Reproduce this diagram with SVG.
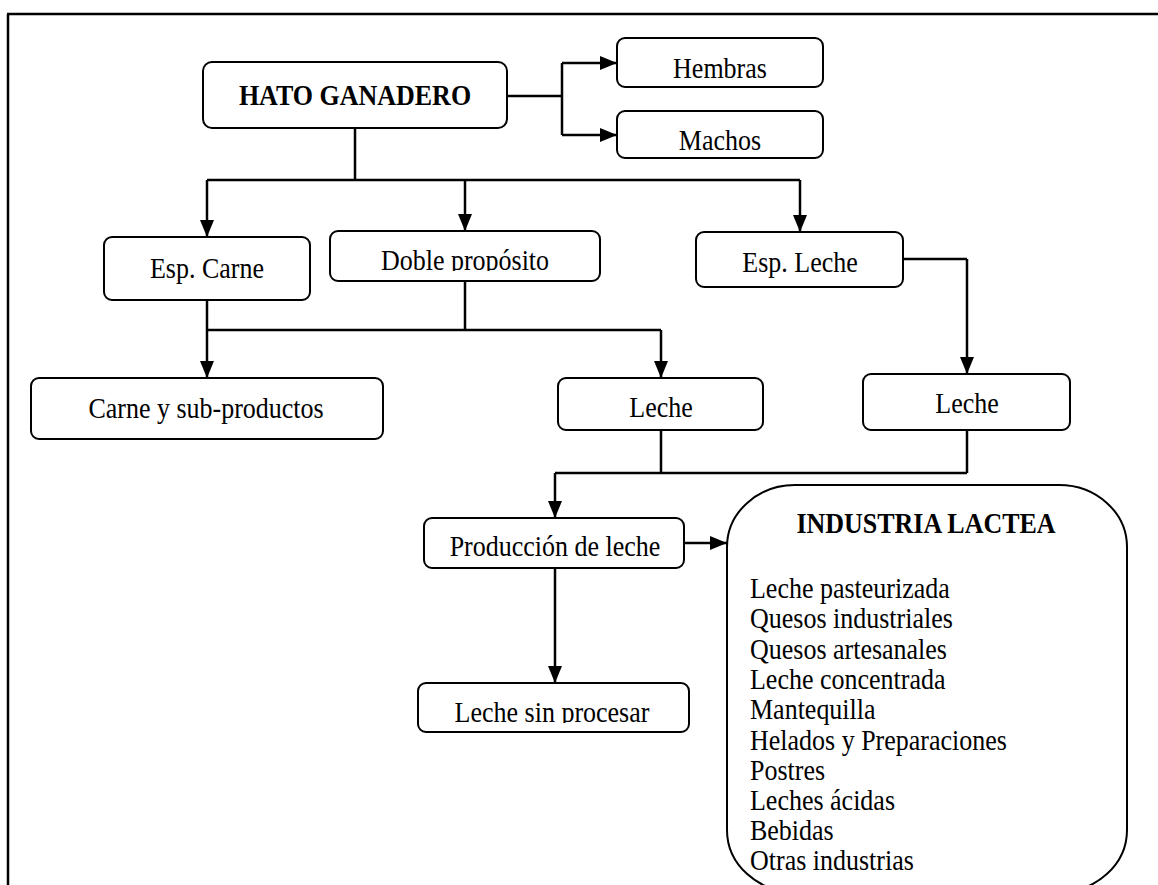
<svg xmlns="http://www.w3.org/2000/svg" width="1158" height="885" viewBox="0 0 1158 885">
<style>
.box{fill:#fff;stroke:#000;stroke-width:2}
.t{font-family:"Liberation Serif","Times New Roman",serif;font-size:26px;fill:#000}
.c{text-anchor:middle}
.b{font-weight:bold}
.ln{fill:none;stroke:#000;stroke-width:2.5}
.ar{fill:none;stroke:#000;stroke-width:2.5;marker-end:url(#ah)}
</style>
<defs>
<marker id="ah" markerUnits="userSpaceOnUse" markerWidth="17" markerHeight="16" viewBox="0 0 17 16" refX="17" refY="8" orient="auto">
<path d="M0,1 L17,8 L0,15 Z" fill="#000"/>
</marker>
<clipPath id="clipDoble"><rect x="330" y="231" width="270" height="40"/></clipPath>
<clipPath id="clipSin"><rect x="418" y="683" width="271" height="40"/></clipPath>
</defs>
<rect width="1158" height="885" fill="#fff"/>
<g id="frame">
<path d="M7,14 H1158" class="ln"/>
<path d="M8,14 V885" class="ln"/>
</g>
<g id="connectors">
<path class="ln" d="M507,96 H562 M562,63 V135 M355,128 V180 M207,180 H800 M207,300 V330 M207,330 H661 M465,281 V330 M661,430 V473 M967,430 V473 M555,473 H967 M903,259 H967"/>
<path class="ar" d="M562,63 H617"/>
<path class="ar" d="M562,135 H617"/>
<path class="ar" d="M207,180 V237"/>
<path class="ar" d="M465,180 V231"/>
<path class="ar" d="M800,180 V232"/>
<path class="ar" d="M207,330 V378"/>
<path class="ar" d="M661,330 V378"/>
<path class="ar" d="M967,259 V374"/>
<path class="ar" d="M555,473 V518"/>
<path class="ar" d="M684,543 H727"/>
<path class="ar" d="M555,568 V683"/>
</g>
<g id="hato"><rect class="box" x="203" y="62" width="304" height="66" rx="9"/><text class="t c b" font-size="27" transform="translate(355,105) scale(1,1.15)">HATO GANADERO</text></g>
<g id="hembras"><rect class="box" x="617" y="38" width="206" height="49" rx="8"/><text class="t c" transform="translate(720,78) scale(1,1.15)">Hembras</text></g>
<g id="machos"><rect class="box" x="617" y="111" width="206" height="47" rx="8"/><text class="t c" transform="translate(720,150) scale(1,1.15)">Machos</text></g>
<g id="esp-carne"><rect class="box" x="104" y="237" width="206" height="63" rx="8"/><text class="t c" transform="translate(207,278) scale(1,1.15)">Esp. Carne</text></g>
<g id="doble"><rect class="box" x="330" y="231" width="270" height="50" rx="8"/><g clip-path="url(#clipDoble)"><text class="t c" transform="translate(465,270) scale(1,1.15)">Doble propósito</text></g></g>
<g id="esp-leche"><rect class="box" x="696" y="232" width="207" height="55" rx="8"/><text class="t c" transform="translate(800,272) scale(1,1.15)">Esp. Leche</text></g>
<g id="carne-sub"><rect class="box" x="31" y="378" width="352" height="61" rx="8"/><text class="t c" transform="translate(206,418) scale(1,1.15)">Carne y sub-productos</text></g>
<g id="leche-1"><rect class="box" x="558" y="378" width="205" height="52" rx="8"/><text class="t c" transform="translate(661,417) scale(1,1.15)">Leche</text></g>
<g id="leche-2"><rect class="box" x="863" y="374" width="207" height="56" rx="8"/><text class="t c" transform="translate(967,413) scale(1,1.15)">Leche</text></g>
<g id="produccion"><rect class="box" x="424" y="518" width="260" height="50" rx="8"/><text class="t c" transform="translate(555,556) scale(1,1.15)">Producción de leche</text></g>
<g id="sin-procesar"><rect class="box" x="418" y="683" width="271" height="49" rx="8"/><g clip-path="url(#clipSin)"><text class="t c" transform="translate(552,722) scale(1,1.15)">Leche sin procesar</text></g></g>
<g id="industria">
<rect class="box" x="727" y="485" width="400" height="407" rx="68" ry="62"/>
<text class="t c b" transform="translate(926,533) scale(1,1.15)">INDUSTRIA LACTEA</text>
<text class="t" transform="translate(750,598) scale(1,1.15)">Leche pasteurizada</text>
<text class="t" transform="translate(750,628) scale(1,1.15)">Quesos industriales</text>
<text class="t" transform="translate(750,659) scale(1,1.15)">Quesos artesanales</text>
<text class="t" transform="translate(750,689) scale(1,1.15)">Leche concentrada</text>
<text class="t" transform="translate(750,719) scale(1,1.15)">Mantequilla</text>
<text class="t" transform="translate(750,750) scale(1,1.15)">Helados y Preparaciones</text>
<text class="t" transform="translate(750,780) scale(1,1.15)">Postres</text>
<text class="t" transform="translate(750,810) scale(1,1.15)">Leches ácidas</text>
<text class="t" transform="translate(750,840) scale(1,1.15)">Bebidas</text>
<text class="t" transform="translate(750,870) scale(1,1.15)">Otras industrias</text>
</g>
</svg>
